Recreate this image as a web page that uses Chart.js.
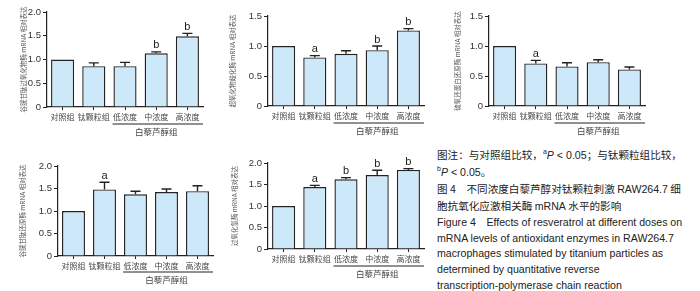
<!DOCTYPE html>
<html>
<head>
<meta charset="utf-8">
<script src="https://cdn.jsdelivr.net/npm/chart.js@4/dist/chart.umd.min.js"></script>
<style>
  body { margin: 0; background: #fff; width: 700px; height: 291px; overflow: hidden; position: relative; }
  .panel { position: absolute; }
  #caption {
    position: absolute; left: 437px; top: 147px; width: 262px;
    font-family: "Liberation Sans", "Noto Sans CJK SC", sans-serif;
    font-size: 10.6px; line-height: 15.9px; color: #222;
  }
  #caption .cn { font-family: "Noto Sans CJK SC", sans-serif; }
  #caption sup { font-size: 7px; line-height: 0; }
</style>
</head>
<body>
<div class="panel" style="left:0;top:0"><canvas id="c1" width="210" height="145"></canvas></div>
<div class="panel" style="left:225px;top:0"><canvas id="c2" width="205" height="145"></canvas></div>
<div class="panel" style="left:450px;top:0"><canvas id="c3" width="205" height="145"></canvas></div>
<div class="panel" style="left:0;top:145px"><canvas id="c4" width="220" height="146"></canvas></div>
<div class="panel" style="left:225px;top:145px"><canvas id="c5" width="205" height="146"></canvas></div>
<div id="caption">
  <span class="cn">图注：与对照组比较，</span><sup>a</sup><i>P</i> &lt; 0.05<span class="cn">；与钛颗粒组比较，</span><br>
  <sup>b</sup><i>P</i> &lt; 0.05<span class="cn">。</span><br>
  <span class="cn">图 4　不同浓度白藜芦醇对钛颗粒刺激 </span>RAW264.7<span class="cn"> 细</span><br>
  <span class="cn">胞抗氧化应激相关酶 </span>mRNA<span class="cn"> 水平的影响</span><br>
  Figure 4　Effects of resveratrol at different doses on<br>
  mRNA levels of antioxidant enzymes in RAW264.7<br>
  macrophages stimulated by titanium particles as<br>
  determined by quantitative reverse<br>
  transcription-polymerase chain reaction
</div>
<script>
// categories and group label
const categories = ["对照组", "钛颗粒组", "低浓度", "中浓度", "高浓度"];
const groupLabel = "白藜芦醇组";

// panel 1
const gpxMean = [1.0, 0.86, 0.86, 1.13, 1.49];
const gpxErr  = [0, 0.07, 0.08, 0.03, 0.06];
const gpxSig  = ["", "", "", "b", "b"];
// panel 2
const sodMean = [1.0, 0.81, 0.87, 0.93, 1.26];
const sodErr  = [0, 0.03, 0.05, 0.07, 0.03];
const sodSig  = ["", "a", "", "b", "b"];
// panel 3
const trxMean = [1.0, 0.71, 0.66, 0.73, 0.61];
const trxErr  = [0, 0.05, 0.06, 0.04, 0.04];
const trxSig  = ["", "a", "", "", ""];
// panel 4
const grMean = [1.0, 1.48, 1.37, 1.42, 1.44];
const grErr  = [0, 0.16, 0.07, 0.07, 0.12];
const grSig  = ["", "a", "", "", ""];
// panel 5
const catMean = [1.0, 1.44, 1.62, 1.72, 1.84];
const catErr  = [0, 0.04, 0.04, 0.11, 0.03];
const catSig  = ["", "a", "b", "b", "b"];

const yTicks1 = [0, 0.5, 1.0, 1.5, 2.0];
const yTicks2 = [0, 0.5, 1.0, 1.5];

const CN = '"Noto Sans CJK SC", sans-serif';
const EN = '"Liberation Sans", Arial, sans-serif';

// error bars, letters, group underline
const extras = {
    id: "extras",
    afterDatasetsDraw(chart, args, opts) {
        const ctx = chart.ctx;
        const x = chart.scales.x, y = chart.scales.y;
        const meta = chart.getDatasetMeta(0);
        const mean = chart.data.datasets[0].data;
        ctx.save();
        ctx.strokeStyle = "#222";
        ctx.lineWidth = 1.4;
        meta.data.forEach((bar, i) => {
            const e = opts.err[i];
            const top = y.getPixelForValue(mean[i] + e);
            if (e > 0) {
                ctx.beginPath();
                ctx.moveTo(bar.x, y.getPixelForValue(mean[i]));
                ctx.lineTo(bar.x, top);
                ctx.moveTo(bar.x - 5, top);
                ctx.lineTo(bar.x + 5, top);
                ctx.stroke();
            }
            if (opts.sig[i]) {
                ctx.fillStyle = "#222";
                ctx.font = "11px " + EN;
                ctx.textAlign = "center";
                ctx.textBaseline = "bottom";
                ctx.fillText(opts.sig[i], bar.x, top - 1);
            }
        });
        // underline under the resveratrol groups
        const step = x.getPixelForValue(1) - x.getPixelForValue(0);
        const x0 = x.getPixelForValue(2) - step * 0.4;
        const x1 = x.right;
        const ly = y.bottom + opts.lineOff;
        ctx.lineWidth = 1;
        ctx.beginPath();
        ctx.moveTo(x0, ly);
        ctx.lineTo(x1, ly);
        ctx.stroke();
        ctx.fillStyle = "#444";
        ctx.font = "8.5px " + CN;
        ctx.textAlign = "center";
        ctx.textBaseline = "middle";
        ctx.fillText(groupLabel, x.getPixelForValue(3), ly + 8);
        ctx.restore();
    }
};

function makeChart(id, mean, err, sig, ticks, yTitle, box) {
    const max = ticks[ticks.length - 1];
    new Chart(document.getElementById(id), {
        type: "bar",
        data: {
            labels: categories,
            datasets: [{
                data: mean,
                backgroundColor: "#cde8f9",
                borderColor: "#222",
                borderWidth: 1.4,
                barPercentage: 0.74,
                categoryPercentage: 1
            }]
        },
        options: {
            responsive: false,
            animation: false,
            layout: { padding: { top: box.top, right: box.right, left: 0, bottom: 0 } },
            plugins: {
                legend: { display: false },
                tooltip: { enabled: false },
                extras: { err: err, sig: sig, lineOff: box.lineOff }
            },
            scales: {
                x: {
                    grid: { display: true, drawOnChartArea: false, offset: false, tickLength: 3, color: "#222", tickWidth: 1 },
                    border: { color: "#222", width: 1.2 },
                    ticks: { color: "#444", font: { family: CN, size: 8 }, padding: 2, maxRotation: 0, autoSkip: false },
                    afterFit: s => { s.height = box.xh; }
                },
                y: {
                    min: 0, max: max,
                    afterBuildTicks: s => { s.ticks = ticks.map(v => ({ value: v })); },
                    grid: { display: true, drawOnChartArea: false, tickLength: 4, color: "#222", tickWidth: 1 },
                    border: { color: "#222", width: 1.2 },
                    ticks: {
                        color: "#333", padding: 2,
                        font: { family: EN, size: 9.5 },
                        callback: v => v === 0 ? "0" : v.toFixed(1)
                    },
                    title: {
                        display: true, text: yTitle, color: "#555",
                        font: { family: CN, size: 6.5 },
                        padding: { top: box.tp, bottom: 0 }
                    },
                    afterFit: s => { s.width = box.yw; }
                }
            }
        },
        plugins: [extras]
    });
}

makeChart("c1", gpxMean, gpxErr, gpxSig, yTicks1, "谷胱甘肽过氧化物酶 mRNA 相对表达",
    { top: 12, right: 7, yw: 47, xh: 38, tp: 20, lineOff: 17 });
makeChart("c2", sodMean, sodErr, sodSig, yTicks2, "超氧化物歧化酶 mRNA 相对表达",
    { top: 16, right: 6, yw: 43, xh: 39, tp: 4, lineOff: 17 });
makeChart("c3", trxMean, trxErr, trxSig, yTicks2, "硫氧还蛋白还原酶 mRNA 相对表达",
    { top: 16, right: 10, yw: 39, xh: 39, tp: 4, lineOff: 17 });
makeChart("c4", grMean, grErr, grSig, yTicks1, "谷胱甘肽还原酶 mRNA 相对表达",
    { top: 21, right: 7, yw: 58, xh: 35, tp: 19, lineOff: 16 });
makeChart("c5", catMean, catErr, catSig, yTicks1, "过氧化氢酶 mRNA 相对表达",
    { top: 18, right: 6, yw: 43, xh: 42, tp: 6, lineOff: 17 });
</script>
</body>
</html>
